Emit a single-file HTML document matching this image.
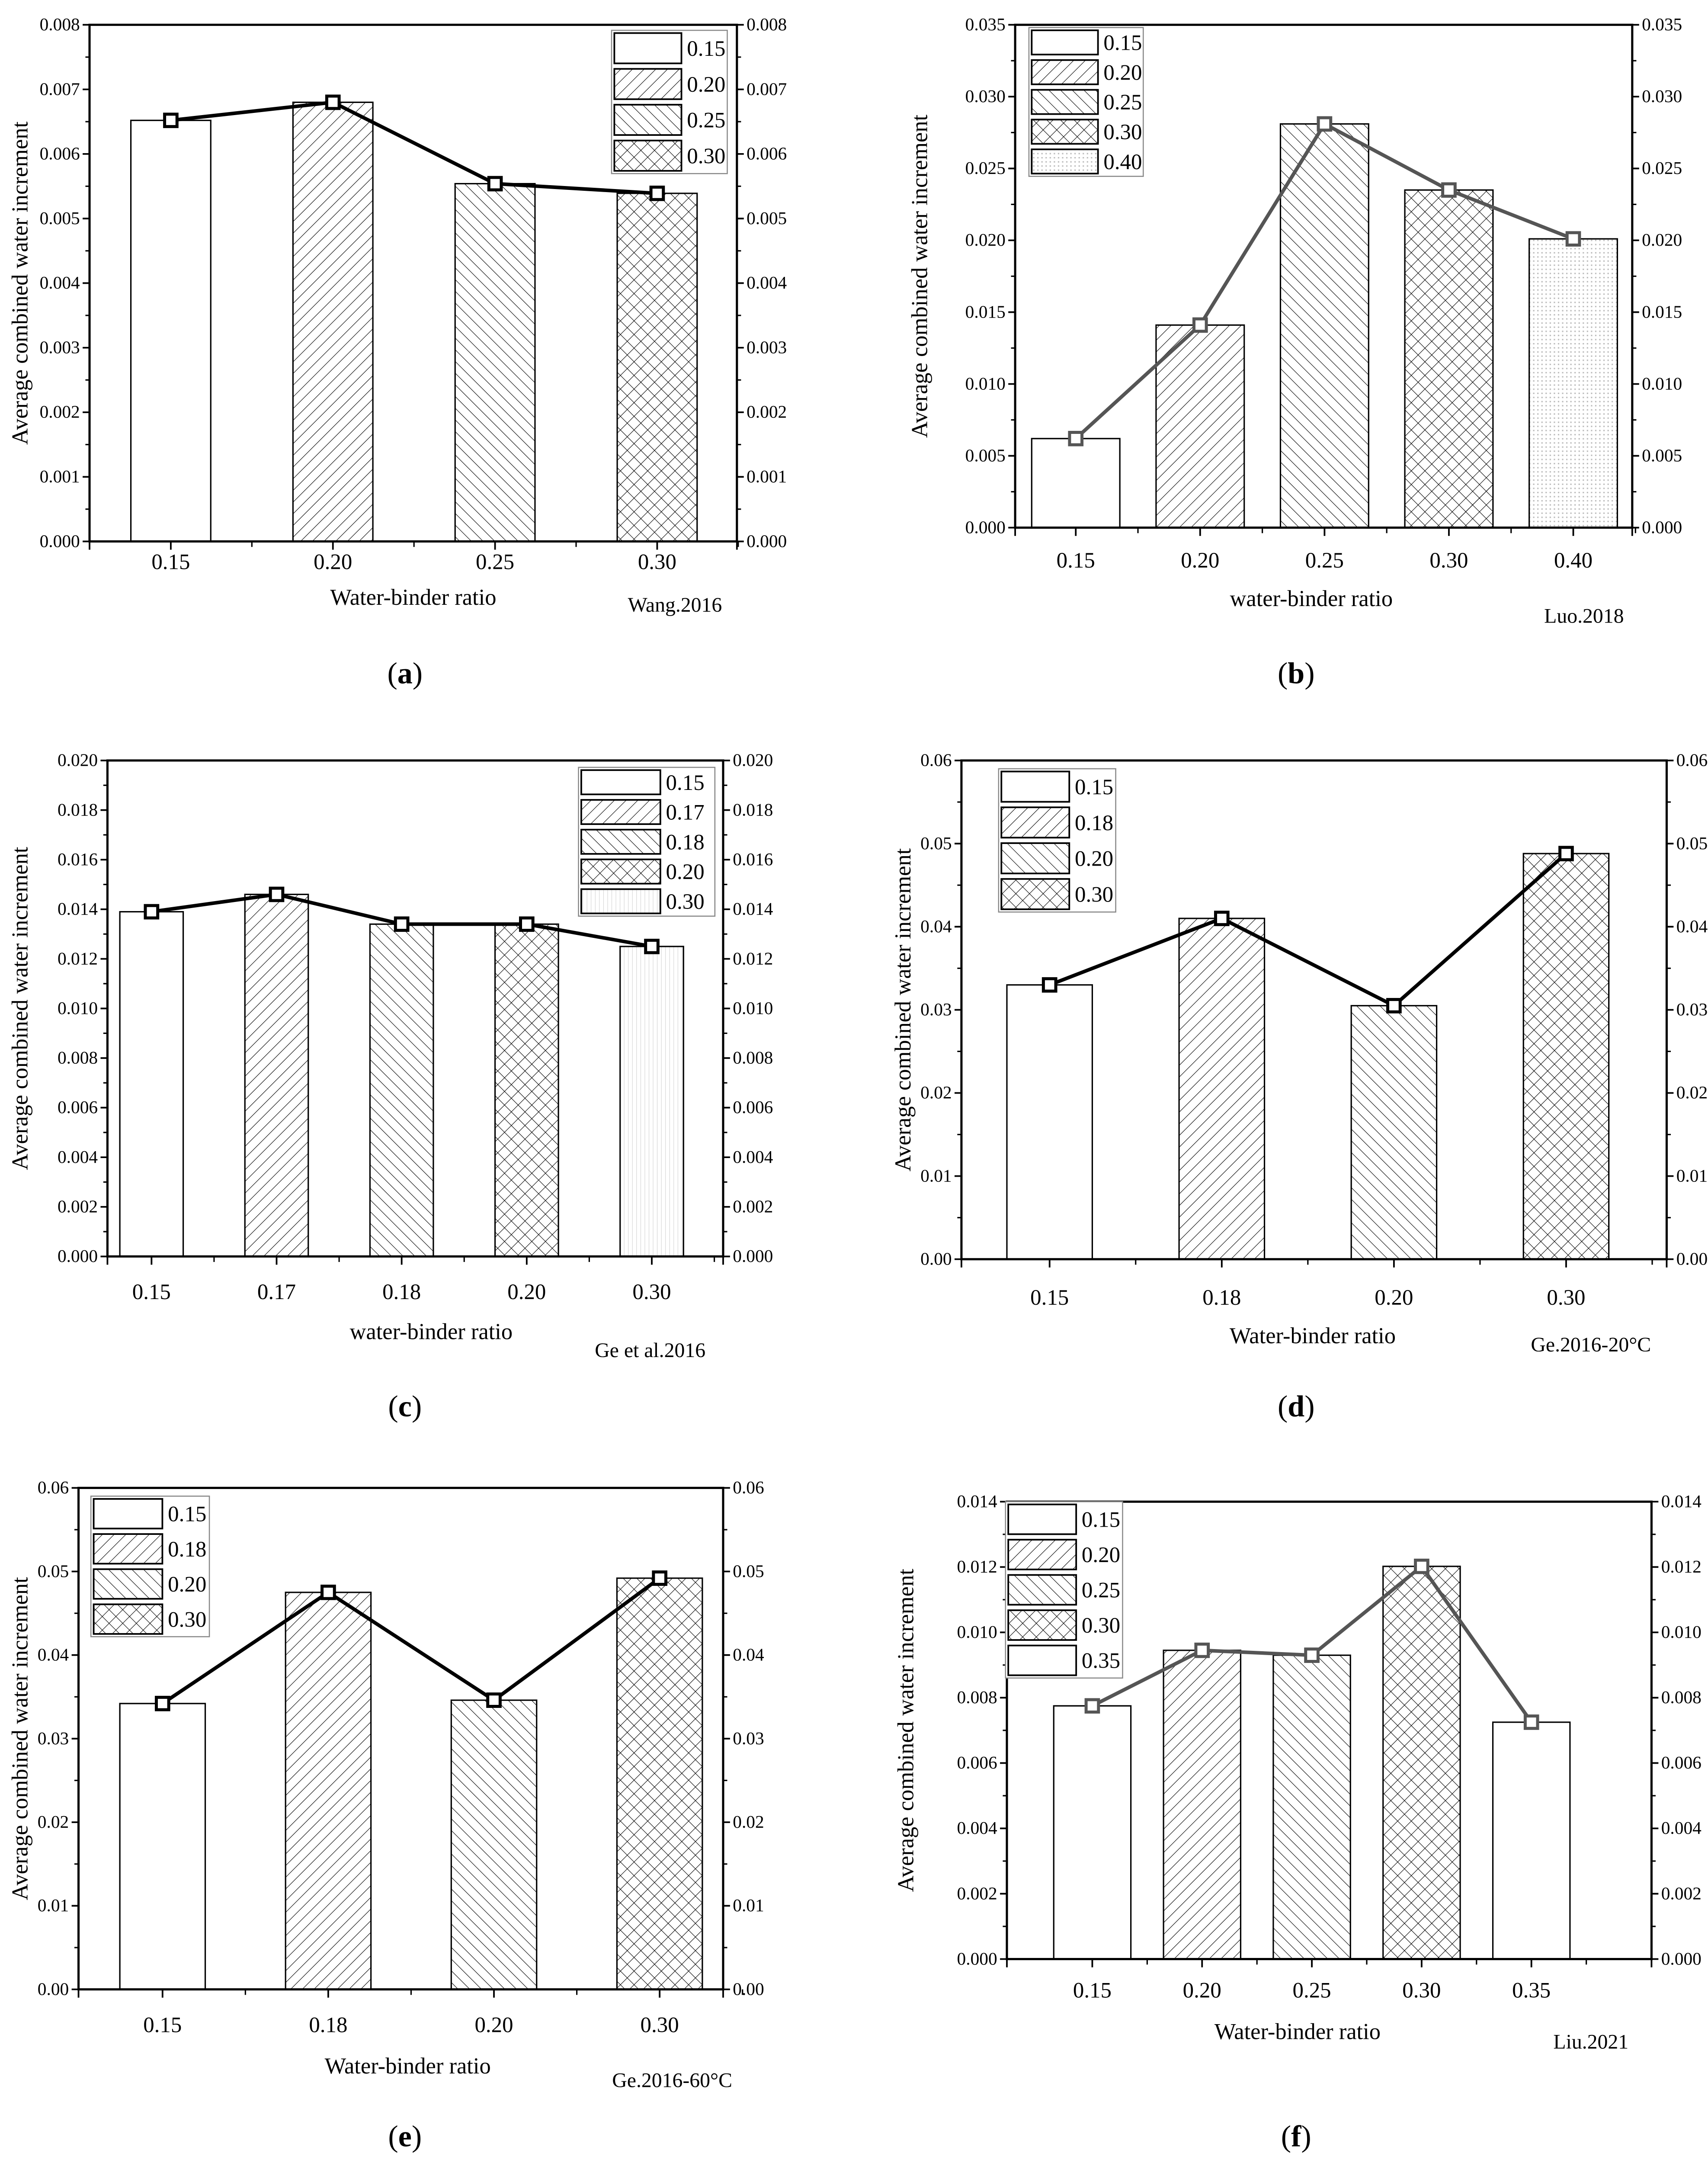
<!DOCTYPE html>
<html><head><meta charset="utf-8"><style>
html,body{margin:0;padding:0;background:#fff;overflow:hidden;width:3949px;height:5005px}
svg{display:block}
text{font-family:"Liberation Serif",serif;fill:#000}
</style></head><body>
<svg id="fig" xmlns="http://www.w3.org/2000/svg" width="3949" height="5005" viewBox="0 0 1240 1571.6" font-family="Liberation Serif, serif">
<defs>
<pattern id="p-fwd" patternUnits="userSpaceOnUse" width="6" height="6" patternTransform="rotate(45)"><rect width="6" height="6" fill="#fff"/><line x1="0" y1="0" x2="0" y2="6" stroke="#000" stroke-width="0.7"/></pattern>
<pattern id="p-back" patternUnits="userSpaceOnUse" width="6" height="6" patternTransform="rotate(-45)"><rect width="6" height="6" fill="#fff"/><line x1="0" y1="0" x2="0" y2="6" stroke="#000" stroke-width="0.7"/></pattern>
<pattern id="p-cross" patternUnits="userSpaceOnUse" width="7" height="7" patternTransform="rotate(45)"><rect width="7" height="7" fill="#fff"/><line x1="0" y1="0" x2="0" y2="7" stroke="#000" stroke-width="0.7"/><line x1="0" y1="0" x2="7" y2="0" stroke="#000" stroke-width="0.7"/></pattern>
<pattern id="p-dots" patternUnits="userSpaceOnUse" width="3" height="3"><rect width="3" height="3" fill="#fff"/><rect width="1" height="1" fill="#bbb"/></pattern>
<pattern id="p-vert" patternUnits="userSpaceOnUse" width="3" height="3"><rect width="3" height="3" fill="#fff"/><line x1="0" y1="0" x2="0" y2="3" stroke="#ccc" stroke-width="0.6"/></pattern>
</defs>
</svg>
<script>
// ---- data ----
const aCats=["0.15","0.20","0.25","0.30"];
const aVals=[0.00652,0.00680,0.00554,0.00539];
const aTicks=[0,0.001,0.002,0.003,0.004,0.005,0.006,0.007,0.008];
const bCats=["0.15","0.20","0.25","0.30","0.40"];
const bVals=[0.0062,0.0141,0.0281,0.0235,0.0201];
const bTicks=[0,0.005,0.010,0.015,0.020,0.025,0.030,0.035];
const cCats=["0.15","0.17","0.18","0.20","0.30"];
const cVals=[0.0139,0.0146,0.0134,0.0134,0.0125];
const cTicks=[0,0.002,0.004,0.006,0.008,0.010,0.012,0.014,0.016,0.018,0.020];
const dCats=["0.15","0.18","0.20","0.30"];
const dVals=[0.0330,0.0410,0.0305,0.0488];
const dTicks=[0,0.01,0.02,0.03,0.04,0.05,0.06];
const eCats=["0.15","0.18","0.20","0.30"];
const eVals=[0.0342,0.0475,0.0346,0.0492];
const eTicks=[0,0.01,0.02,0.03,0.04,0.05,0.06];
const fCats=["0.15","0.20","0.25","0.30","0.35"];
const fVals=[0.00775,0.00945,0.00930,0.01202,0.00725];
const fTicks=[0,0.002,0.004,0.006,0.008,0.010,0.012,0.014];

const NS="http://www.w3.org/2000/svg";
const svg=document.getElementById('fig');
function mk(tag,attrs,parent){const e=document.createElementNS(NS,tag);for(const k in attrs)e.setAttribute(k,attrs[k]);(parent||svg).appendChild(e);return e;}

const panels=[
 {id:'a',cats:aCats,vals:aVals,ticks:aTicks,dec:3,L:65,R:535,T:18,B:393,x0:124,dx:117.7,bw:58,fills:['#fff','url(#p-fwd)','url(#p-back)','url(#p-cross)'],line:'#000',
  leg:{x:444,y:22,w:84,h:104},ytx:14,xl:413,xt:'Water-binder ratio',xtx:300,xty:439,src:'Wang.2016',sx:490,sy:444,lab:'a',lx:294,ly:496},
 {id:'b',cats:bCats,vals:bVals,ticks:bTicks,dec:3,L:737,R:1185,T:18,B:383,x0:781,dx:90.3,bw:64,fills:['#fff','url(#p-fwd)','url(#p-back)','url(#p-cross)','url(#p-dots)'],line:'#555',
  leg:{x:747,y:20,w:83,h:108},ytx:667,xl:412,xt:'water-binder ratio',xtx:952,xty:440,src:'Luo.2018',sx:1150,sy:452,lab:'b',lx:941,ly:496},
 {id:'c',cats:cCats,vals:cVals,ticks:cTicks,dec:3,L:78,R:525,T:552,B:912,x0:110,dx:90.8,bw:46,fills:['#fff','url(#p-fwd)','url(#p-back)','url(#p-cross)','url(#p-vert)'],line:'#000',
  leg:{x:420,y:557,w:99,h:108},ytx:14,xl:943,xt:'water-binder ratio',xtx:313,xty:972,src:'Ge et al.2016',sx:472,sy:985,lab:'c',lx:294,ly:1028},
 {id:'d',cats:dCats,vals:dVals,ticks:dTicks,dec:2,L:698,R:1210,T:552,B:914,x0:762,dx:125,bw:62,fills:['#fff','url(#p-fwd)','url(#p-back)','url(#p-cross)'],line:'#000',
  leg:{x:725,y:558,w:85,h:104},ytx:655,xl:947,xt:'Water-binder ratio',xtx:953,xty:975,src:'Ge.2016-20°C',sx:1155,sy:981,lab:'d',lx:941,ly:1028},
 {id:'e',cats:eCats,vals:eVals,ticks:eTicks,dec:2,L:57,R:525,T:1080,B:1444,x0:118,dx:120.3,bw:62,fills:['#fff','url(#p-fwd)','url(#p-back)','url(#p-cross)'],line:'#000',
  leg:{x:66,y:1086,w:86,h:102},ytx:14,xl:1475,xt:'Water-binder ratio',xtx:296,xty:1505,src:'Ge.2016-60°C',sx:488,sy:1515,lab:'e',lx:294,ly:1558},
 {id:'f',cats:fCats,vals:fVals,ticks:fTicks,dec:3,L:731,R:1199,T:1090,B:1422,x0:793,dx:79.7,bw:56,fills:['#fff','url(#p-fwd)','url(#p-back)','url(#p-cross)','#fff'],line:'#555',
  leg:{x:730,y:1090,w:85,h:128},ytx:657,xl:1450,xt:'Water-binder ratio',xtx:942,xty:1480,src:'Liu.2021',sx:1155,sy:1487,lab:'f',lx:941,ly:1558}
];

panels.forEach(p=>{
 const g=mk('g',{});
 
 
 const ymax=p.ticks[p.ticks.length-1];
 const y=v=>p.B-(v/ymax)*(p.B-p.T);
 const x=i=>p.x0+i*p.dx;
 p.vals.forEach((v,i)=>{
  const r=mk('rect',{x:x(i)-p.bw/2,y:y(v),width:p.bw,height:p.B-y(v),fill:p.fills[i],stroke:'#000','stroke-width':1},g);
  
  
 });
 const pts=p.vals.map((v,i)=>x(i)+','+y(v)).join(' ');
 const pl=mk('polyline',{points:pts,fill:'none',stroke:p.line,'stroke-width':2.6},g);
 
 
 p.vals.forEach((v,i)=>{
  const m=mk('rect',{x:x(i)-4.5,y:y(v)-4.5,width:9,height:9,fill:'#fff',stroke:p.line,'stroke-width':2.2},g);
  
  
 });
 const fr=mk('rect',{x:p.L,y:p.T,width:p.R-p.L,height:p.B-p.T,fill:'none',stroke:'#000','stroke-width':1.6},g);
 
 
 p.ticks.forEach((t,k)=>{
  const yy=y(t);
  mk('line',{x1:p.L-5,y1:yy,x2:p.L,y2:yy,stroke:'#000','stroke-width':1.2},g);
  mk('line',{x1:p.R,y1:yy,x2:p.R+5,y2:yy,stroke:'#000','stroke-width':1.2},g);
  if(k<p.ticks.length-1){const ym=y((t+p.ticks[k+1])/2);
   mk('line',{x1:p.L-3,y1:ym,x2:p.L,y2:ym,stroke:'#000','stroke-width':1},g);
   mk('line',{x1:p.R,y1:ym,x2:p.R+3,y2:ym,stroke:'#000','stroke-width':1},g);}
  const lt=mk('text',{x:p.L-7,y:yy+4,'font-size':13,'text-anchor':'end','font-family':'Liberation Serif, serif'},g);lt.textContent=t.toFixed(p.dec);
  
  
  const rt=mk('text',{x:p.R+7,y:yy+4,'font-size':13,'text-anchor':'start','font-family':'Liberation Serif, serif'},g);rt.textContent=t.toFixed(p.dec);
  
  
 });
 p.cats.forEach((c,i)=>{
  mk('line',{x1:x(i),y1:p.B,x2:x(i),y2:p.B+6,stroke:'#000','stroke-width':1.2},g);
  mk('line',{x1:x(i)+p.dx/2,y1:p.B,x2:x(i)+p.dx/2,y2:p.B+4,stroke:'#000','stroke-width':1},g);
  const xt=mk('text',{x:x(i),y:p.xl,'font-size':16,'text-anchor':'middle','font-family':'Liberation Serif, serif'},g);xt.textContent=c;
  
  
 });
 mk('line',{x1:p.L,y1:p.B,x2:p.L,y2:p.B+6,stroke:'#000','stroke-width':1.2},g);
 mk('line',{x1:p.R,y1:p.B,x2:p.R,y2:p.B+6,stroke:'#000','stroke-width':1.2},g);
 const yt=mk('text',{x:0,y:0,'font-size':16.5,'text-anchor':'middle','font-family':'Liberation Serif, serif',transform:`translate(${p.ytx+6},${(p.T+p.B)/2}) rotate(-90)`},g);
 yt.textContent='Average combined water increment';
 
 
 const xtt=mk('text',{x:p.xtx,y:p.xty,'font-size':16.5,'text-anchor':'middle','font-family':'Liberation Serif, serif'},g);xtt.textContent=p.xt;
 
 
 const st=mk('text',{x:p.sx,y:p.sy,'font-size':15,'text-anchor':'middle','font-family':'Liberation Serif, serif'},g);st.textContent=p.src;
 
 
 const pl2=mk('text',{x:p.lx,y:p.ly,'font-size':22,'text-anchor':'middle','font-family':'Liberation Serif, serif'},g);
 pl2.innerHTML='(<tspan font-weight="bold">'+p.lab+'</tspan>)';
 
 
 const lg=mk('g',{},g);
 
 
 mk('rect',{x:p.leg.x,y:p.leg.y,width:p.leg.w,height:p.leg.h,fill:'#fff',stroke:'#888','stroke-width':0.8},lg);
 const n=p.cats.length, eh=p.leg.h/n, sw=p.leg.w*0.58;
 p.cats.forEach((c,i)=>{
  const ey=p.leg.y+i*eh;
  const sr=mk('rect',{x:p.leg.x+2,y:ey+2,width:sw,height:eh-4,fill:p.fills[i],stroke:'#000','stroke-width':1.2},lg);
  
  
  const lt=mk('text',{x:p.leg.x+sw+6,y:ey+eh/2+5.5,'font-size':16,'font-family':'Liberation Serif, serif'},lg);lt.textContent=c;
  
  
 });
});
</script>
</body></html>
